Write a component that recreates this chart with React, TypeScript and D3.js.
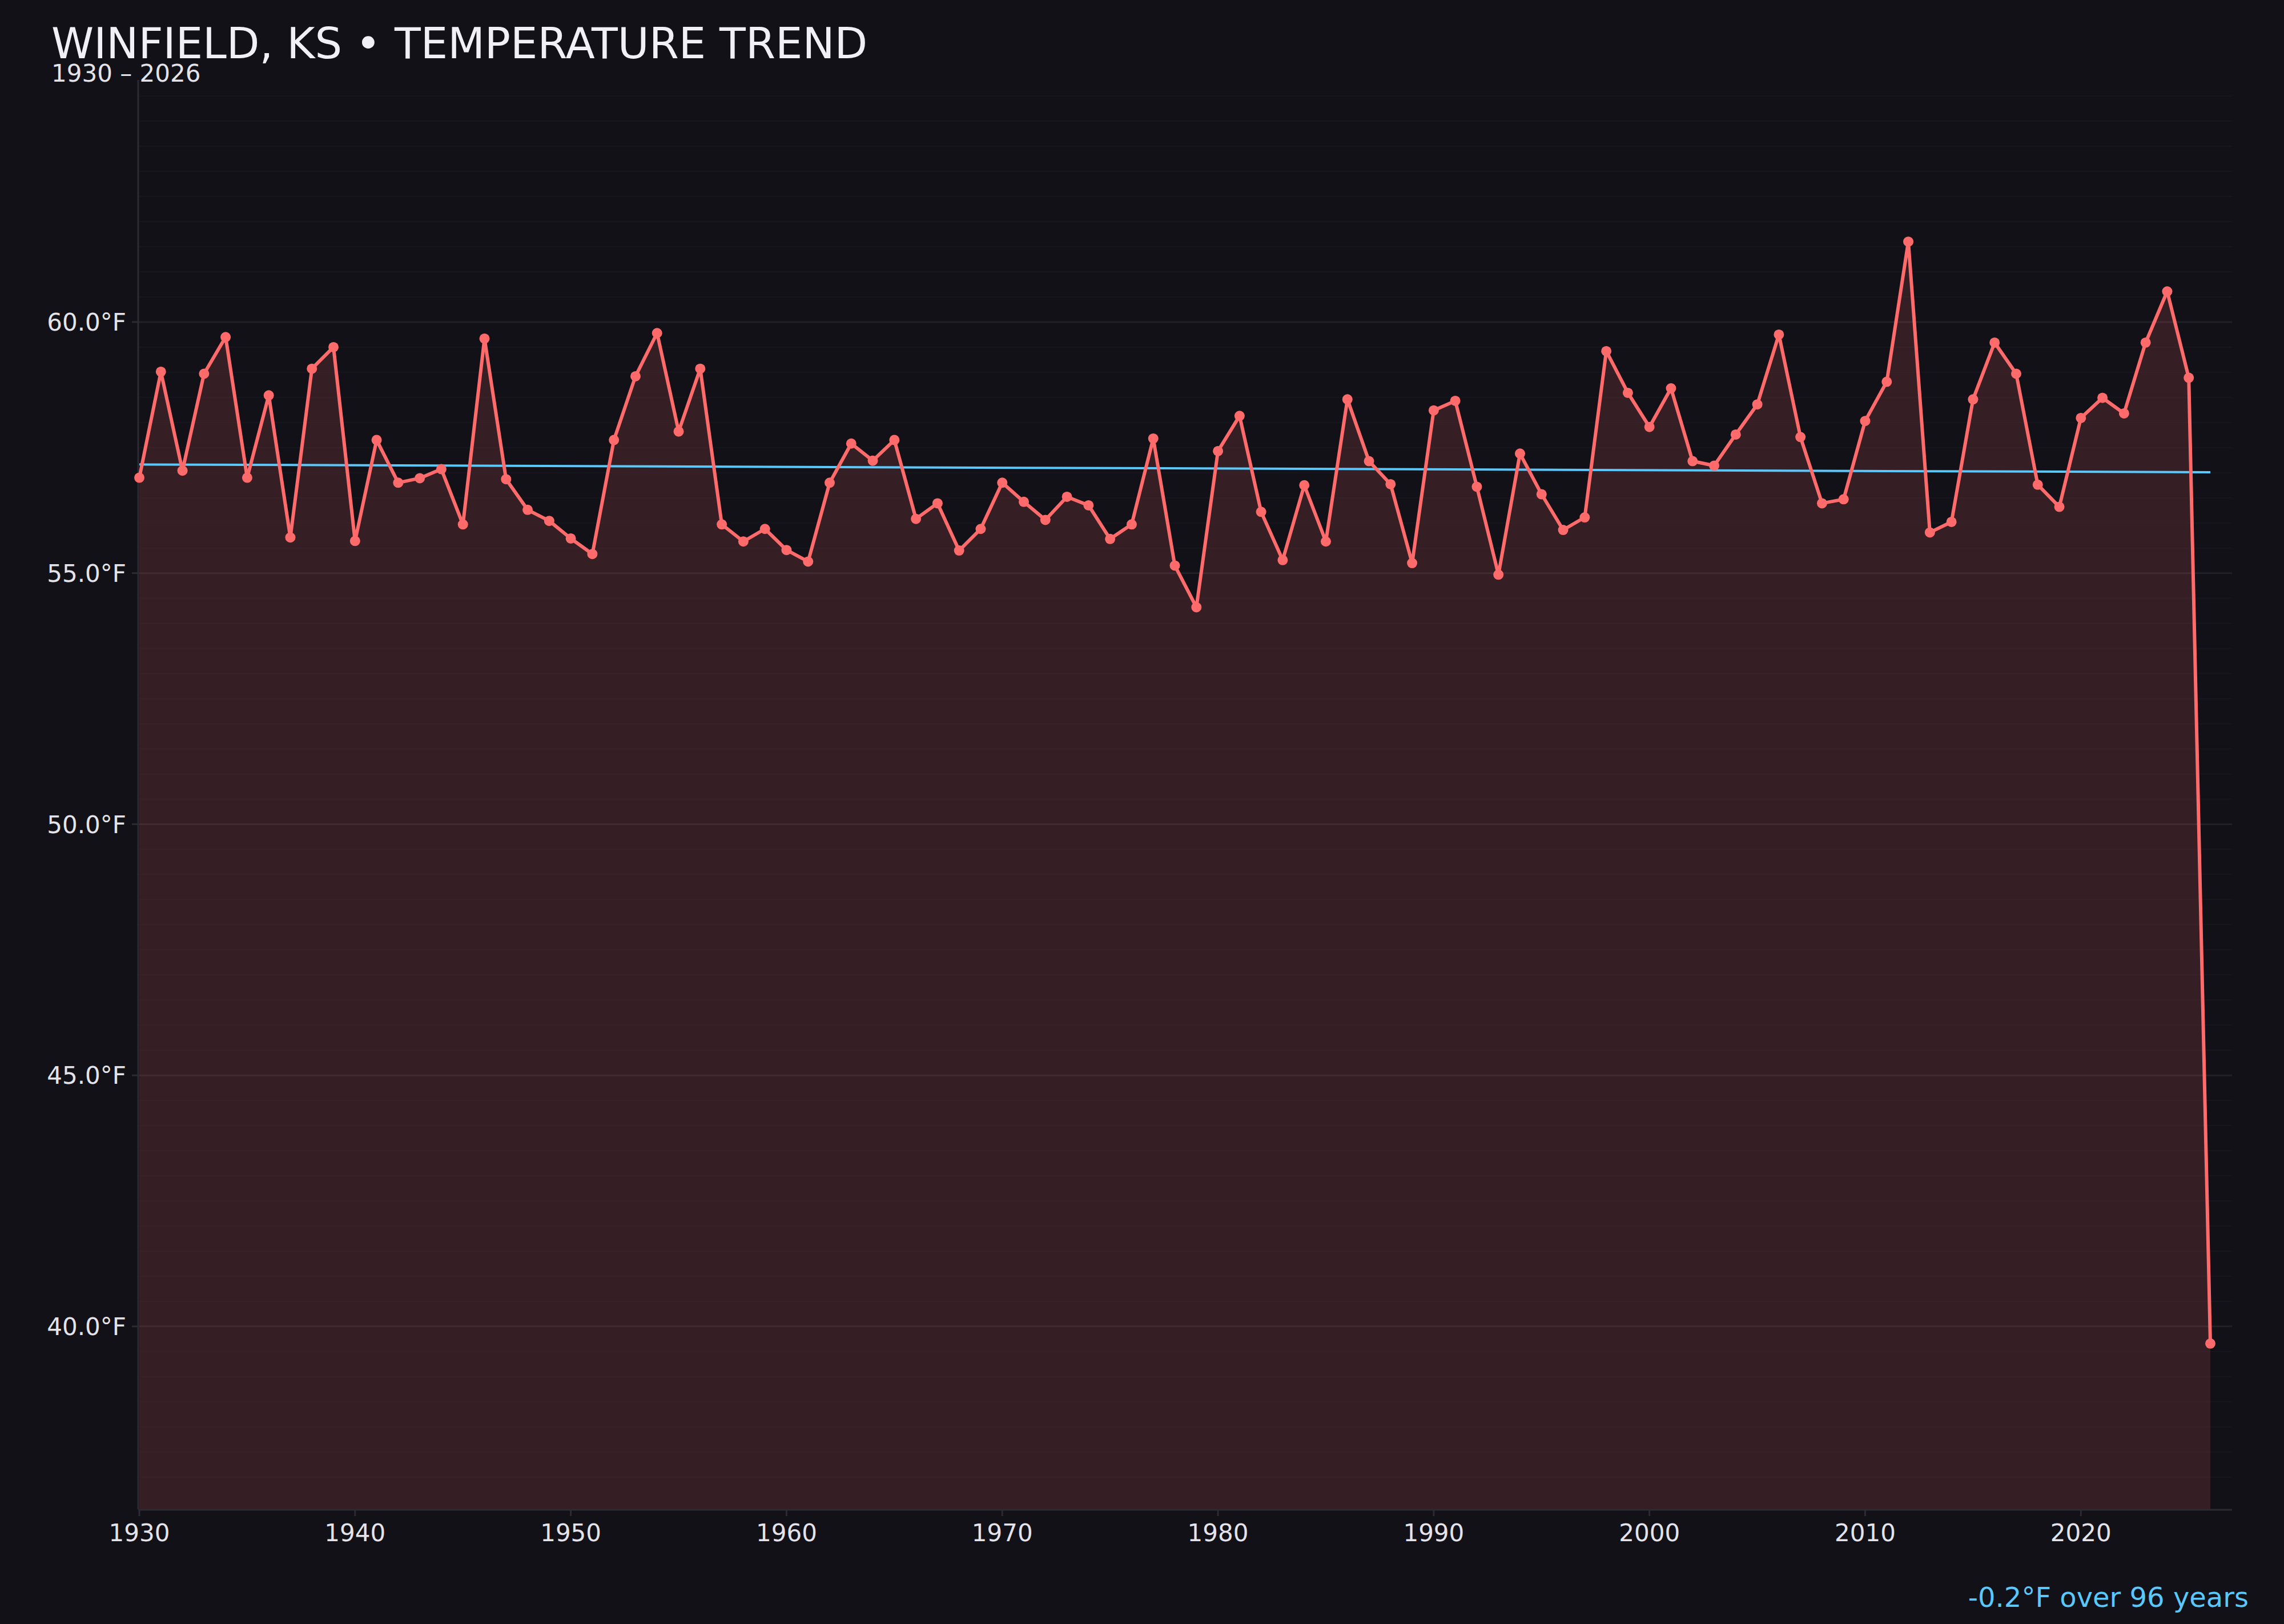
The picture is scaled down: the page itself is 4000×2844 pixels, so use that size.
import { useEffect, useRef } from 'react';
import * as d3 from 'd3';

const startYear = 1930;
// annual mean temperature, °F
const temps = [
  56.90, 59.01, 57.04, 58.97, 59.70, 56.90, 58.54, 55.71, 59.07, 59.50,
  55.64, 57.65, 56.80, 56.89, 57.07, 55.97, 59.67, 56.87, 56.26, 56.04,
  55.69, 55.38, 57.65, 58.92, 59.78, 57.82, 59.07, 55.97, 55.63, 55.88,
  55.46, 55.23, 56.80, 57.58, 57.24, 57.65, 56.08, 56.39, 55.45, 55.88,
  56.80, 56.42, 56.06, 56.52, 56.35, 55.68, 55.97, 57.68, 55.15, 54.32,
  57.43, 58.13, 56.22, 55.26, 56.75, 55.63, 58.46, 57.23, 56.77, 55.20,
  58.24, 58.43, 56.72, 54.97, 57.38, 56.57, 55.86, 56.11, 59.42, 58.59,
  57.91, 58.68, 57.23, 57.14, 57.76, 58.36, 59.75, 57.71, 56.39, 56.47,
  58.03, 58.81, 61.60, 55.81, 56.02, 58.46, 59.59, 58.97, 56.76, 56.32,
  58.09, 58.49, 58.18, 59.59, 60.61, 58.89, 39.66,
];
const years = temps.map((_, i) => startYear + i);
const yMajorTicks = [40, 45, 50, 55, 60];
const xTicks = [1930, 1940, 1950, 1960, 1970, 1980, 1990, 2000, 2010, 2020];

const title = 'WINFIELD, KS • TEMPERATURE TREND';
const subtitle = '1930 – 2026';
const trendLabel = '-0.2°F over 96 years';

const App = () => {
  const svgRef = useRef<SVGSVGElement | null>(null);

  const width = 4000;
  const height = 2844;
  const plotLeft = 242;
  const plotRight = 3909;
  const plotTop = 140;
  const plotBottom = 2643;

  useEffect(() => {
    document.body.style.margin = '0';
    const svgElement = svgRef.current;
    if (!svgElement) return;

    const svg = d3.select(svgElement);
    svg.selectAll('*').remove();

    const font = '"DejaVu Sans", sans-serif';

    svg.append('rect')
      .attr('width', width)
      .attr('height', height)
      .attr('fill', '#121118');

    const x = d3.scaleLinear().domain([1930, 2026]).range([244, 3871]);
    const y = d3.scaleLinear().domain([36.36, 64.82]).range([plotBottom, plotTop]);

    // grid: faint minor every 0.5°F, major every 5°F
    const minor = d3.range(37, 64.81, 0.5).filter(v => v % 5 !== 0);
    svg.append('g')
      .selectAll('line')
      .data(minor)
      .join('line')
      .attr('x1', plotLeft)
      .attr('x2', plotRight)
      .attr('y1', d => y(d))
      .attr('y2', d => y(d))
      .attr('stroke', '#17161c')
      .attr('stroke-width', 2);

    svg.append('g')
      .selectAll('line')
      .data(yMajorTicks)
      .join('line')
      .attr('x1', plotLeft)
      .attr('x2', plotRight)
      .attr('y1', d => y(d))
      .attr('y2', d => y(d))
      .attr('stroke', '#222128')
      .attr('stroke-width', 3);

    const data = years.map((yr, i) => ({ yr, t: temps[i] }));

    const area = d3.area<{ yr: number, t: number }>()
      .x(d => x(d.yr))
      .y0(plotBottom)
      .y1(d => y(d.t));

    svg.append('path')
      .datum(data)
      .attr('fill', '#ff6b6b')
      .attr('fill-opacity', 0.15)
      .attr('d', area);

    // axes
    svg.append('line')
      .attr('x1', plotLeft).attr('x2', plotLeft)
      .attr('y1', plotTop).attr('y2', plotBottom)
      .attr('stroke', '#2c2b33').attr('stroke-width', 3);
    svg.append('line')
      .attr('x1', plotLeft).attr('x2', plotRight)
      .attr('y1', plotBottom + 1).attr('y2', plotBottom + 1)
      .attr('stroke', '#2c2b33').attr('stroke-width', 3);

    const yTickG = svg.append('g');
    yTickG.selectAll('line')
      .data(yMajorTicks)
      .join('line')
      .attr('x1', 231).attr('x2', plotLeft)
      .attr('y1', d => y(d)).attr('y2', d => y(d))
      .attr('stroke', '#2c2b33').attr('stroke-width', 3);
    yTickG.selectAll('text')
      .data(yMajorTicks)
      .join('text')
      .attr('x', 221)
      .attr('y', d => y(d))
      .attr('dy', '0.36em')
      .attr('text-anchor', 'end')
      .attr('font-family', font)
      .attr('font-size', 42)
      .attr('fill', '#e4e3ea')
      .text(d => `${d.toFixed(1)}°F`);

    const xTickG = svg.append('g');
    xTickG.selectAll('line')
      .data(xTicks)
      .join('line')
      .attr('x1', d => x(d)).attr('x2', d => x(d))
      .attr('y1', plotBottom).attr('y2', plotBottom + 12)
      .attr('stroke', '#2c2b33').attr('stroke-width', 3);
    xTickG.selectAll('text')
      .data(xTicks)
      .join('text')
      .attr('x', d => x(d))
      .attr('y', 2699)
      .attr('text-anchor', 'middle')
      .attr('font-family', font)
      .attr('font-size', 42)
      .attr('fill', '#e4e3ea')
      .text(d => d);

    // linear trend (least squares over the series)
    const mx = d3.mean(years) ?? 0;
    const my = d3.mean(temps) ?? 0;
    const sxy = d3.sum(years, (yr, i) => (yr - mx) * (temps[i] - my));
    const sxx = d3.sum(years, yr => (yr - mx) ** 2);
    const slope = sxy / sxx;
    const trend = [years[0], years[years.length - 1]].map(yr => ({ yr, t: my + slope * (yr - mx) }));

    const line = d3.line<{ yr: number, t: number }>()
      .x(d => x(d.yr))
      .y(d => y(d.t));

    svg.append('path')
      .datum(trend)
      .attr('fill', 'none')
      .attr('stroke', '#5ac8fa')
      .attr('stroke-width', 4)
      .attr('d', line);

    svg.append('path')
      .datum(data)
      .attr('fill', 'none')
      .attr('stroke', '#ff6b6b')
      .attr('stroke-width', 6)
      .attr('stroke-linejoin', 'round')
      .attr('d', line);

    svg.append('g')
      .selectAll('circle')
      .data(data)
      .join('circle')
      .attr('cx', d => x(d.yr))
      .attr('cy', d => y(d.t))
      .attr('r', 9)
      .attr('fill', '#ff6b6b');

    svg.append('text')
      .attr('x', 90)
      .attr('y', 102)
      .attr('font-family', font)
      .attr('font-size', 75)
      .attr('fill', '#f2f0f7')
      .text(title);

    svg.append('text')
      .attr('x', 90)
      .attr('y', 143)
      .attr('font-family', font)
      .attr('font-size', 42)
      .attr('fill', '#e4e3ea')
      .text(subtitle);

    svg.append('text')
      .attr('x', 3938)
      .attr('y', 2814)
      .attr('text-anchor', 'end')
      .attr('font-family', font)
      .attr('font-size', 48)
      .attr('fill', '#5ac8fa')
      .text(trendLabel);
  }, []);

  return (
    <div>
      <svg ref={svgRef} width={width} height={height} style={{ display: 'block' }} />
    </div>
  );
};

export default App;
